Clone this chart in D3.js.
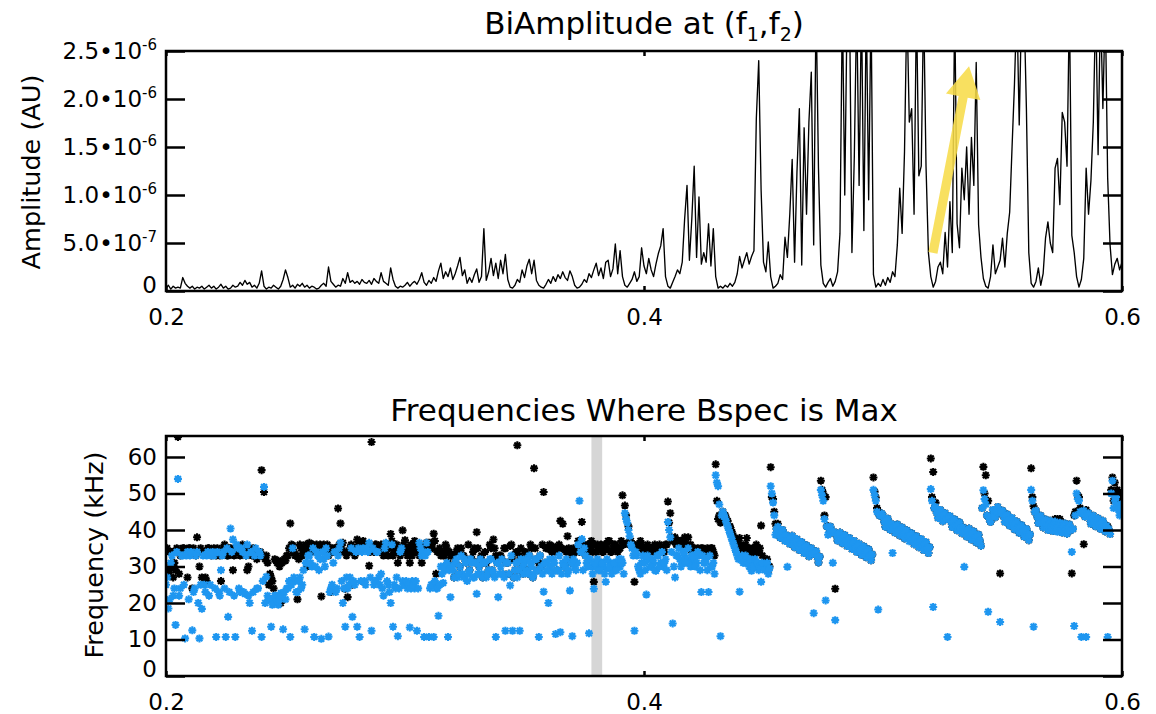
<!DOCTYPE html>
<html><head><meta charset="utf-8">
<script src="https://cdn.jsdelivr.net/npm/d3@7"></script>
<style>
body{margin:0;background:#fff}
svg{display:block}
text{font-family:"DejaVu Sans","Liberation Sans",sans-serif;fill:#000}
</style>
</head><body>
<svg id="chart" width="1156" height="714"></svg>
<script>
// ---------------- DATA ----------------
// frequency grid (x axis): starts at 0.2, step 0.001 -> 401 samples up to 0.6
const freqStart = 0.2, freqStep = 0.001;
// BiAmplitude, in units of 1e-7 AU (values above 25 are off the top of the plot)
const ampUnit = 1e-7;
const amplitude = [
0.3,0.6,0.2,0.5,0.3,0.4,0.3,1.4,0.8,0.5,
0.3,0.5,0.2,0.4,0.3,0.5,0.2,0.4,0.6,0.3,
0.5,0.2,0.4,0.7,0.3,0.5,0.2,0.3,0.6,0.4,
0.5,0.9,0.6,1.1,0.7,0.9,0.4,0.6,0.3,0.8,
2.1,0.5,0.2,0.4,0.3,0.6,0.4,0.2,0.5,1.2,
2.2,1.4,0.4,0.6,0.3,0.7,0.5,0.8,0.4,0.6,
0.3,0.5,0.4,0.2,0.3,0.6,0.8,0.5,2.5,1.0,
0.7,0.4,0.6,0.5,1.3,0.8,1.9,0.9,1.1,0.8,
1.0,0.7,1.2,0.9,0.8,1.1,0.7,1.3,1.0,0.8,
1.9,1.0,0.8,0.6,2.4,1.2,0.5,0.3,0.5,0.4,
0.6,0.9,0.5,0.8,1.0,0.7,1.2,1.9,0.9,0.6,
1.1,0.8,1.4,1.0,2.1,2.9,1.3,2.0,1.5,2.4,
1.2,1.8,2.6,3.5,1.6,2.2,0.8,1.4,0.9,1.7,
2.3,0.9,1.5,6.5,1.1,2.0,3.4,1.6,2.9,1.3,
3.2,1.8,3.8,1.2,0.4,0.3,0.6,1.2,0.9,2.2,
1.4,2.6,3.3,1.8,3.2,1.1,0.6,0.4,0.3,0.7,
1.2,0.8,1.5,1.0,1.7,1.3,2.0,1.4,1.1,2.1,
1.5,0.6,0.3,0.4,0.7,1.2,0.9,1.8,1.4,2.2,
2.9,1.6,2.4,1.3,3.0,3.2,1.5,2.3,4.9,1.8,
4.2,1.5,0.6,0.4,0.8,1.2,2.0,1.0,1.5,4.5,
2.6,1.8,3.4,2.2,1.5,2.8,3.9,4.7,6.5,1.5,
0.5,0.3,0.9,1.5,2.2,1.8,3.0,7.5,11.0,3.2,
7.5,13.0,3.5,9.8,2.8,4.0,3.0,7.0,2.6,6.5,
1.5,0.3,0.5,0.3,0.6,0.4,0.8,0.5,0.9,1.8,
3.6,2.4,3.2,4.0,2.8,3.6,4.2,18.0,24.0,10.5,
3.0,2.0,5.1,1.5,0.3,0.5,0.8,1.7,1.2,5.6,
3.5,8.0,13.7,3.0,12.4,19.0,2.7,17.0,8.0,17.6,
22.8,4.8,30,12.8,2.7,0.8,0.4,0.9,1.3,0.5,
1.0,2.0,6.0,30,10.0,30,30,4.0,14.0,30,
11.0,30,6.3,30,9.5,30,1.7,0.4,0.8,0.5,
1.2,0.6,1.4,0.9,2.0,1.5,4.8,10.7,6.0,14.5,
30,17.6,19.0,8.0,30,12.0,13.0,30,13.0,4.0,
1.5,0.4,1.0,2.5,3.0,1.8,6.1,2.5,9.3,4.0,
30,7.0,4.5,12.8,9.5,15.0,8.0,16.0,11.0,23.8,
6.9,3.5,1.3,0.5,0.3,1.5,4.8,1.8,2.5,3.2,
5.5,2.5,6.0,8.2,15.0,21.5,30,17.3,30,30,
19,4,0.8,0.4,1.0,2.4,0.6,1.8,5.5,7.2,
5.0,4.0,12.8,13.8,9.0,18.6,17.6,13.0,30,5.8,
4.0,1.5,0.4,1.2,3.4,12.8,8.0,11.5,17.6,30,
14.2,30,19.0,30,11.8,4.8,1.7,2.8,3.4,2.2,3.0
];
// Frequencies (kHz) where Bspec is max, black series, on the 0.001 grid
const freqBlack = [
34,28,30,27,29,65.5,33,35,34,27,
35,24,34,38,30,27,34,26,35,33,
35,33,34,26,35,34,33,35,29,34,
35,33,36,34,29,35,33,34,32,33,
56.4,50.4,33,25,27,24,31.6,31.6,20,31.6,
31.6,33,41.8,35.8,33,21,36,33,35,30,
36.5,34,35,36,35,21.8,36,35,33,23,
34,35,45.9,41.8,36.5,23.9,21.6,35,25,33,
37.4,35,36,25.7,35,30.2,64.1,34,36,35,
36,33,36.3,33,38.9,33,35,31,33,39.9,
37.2,33,31,33,37,35,33,31,35,36.5,
36.5,36.5,39,28,34,33,33,36,31,33,
33,31,35,30,33,32,31.8,29,32,35,
39.4,30,33,31,31,29,35,37.4,33,32,
33,28,35,31,35.6,32,29,63.2,33,30,
32,29,33,35,56.9,32,31,30,50.4,35,
35,34.5,35.5,34,35,42.5,41.7,34.5,38.3,34,
33,34,35,34,42.2,36,34,35,37,25.8,
34,35,36,34,35,37,34,35,36,34,
35,49.5,46.7,36.5,36,35.5,25.8,35,36,36,
34,35,34,35,34,35,34,35,34,36,
47.8,44.6,37,38,36,37,36,38,36,35,
34,35,34,34.2,35,34,33,34,35,34,
58,43,42,45,44,42.5,41,39,37.8,37,
37.8,35,34,37.8,35,34,33,36,34,41.2,
31,30.5,29,57.2,48.5,41.7,41.7,37.9,40.0,37.0,
38,36.2,38.4,35.3,37.5,34.5,36.7,33.7,35.8,32.8,
35.0,33.5,34.2,31.1,53.5,50,49,41,40.9,39.5,
23.9,37.1,39.3,36.4,38.6,35.6,37.8,34.8,37.0,34.0,
36.2,33.2,35.5,32.5,34.7,31.7,54.4,48.9,45,44,
43.9,40.9,43.1,40.1,40.5,39.3,41.5,38.5,40.7,37.7,
39.9,38.8,39.1,36.1,38.3,35.3,37.5,34.5,36.7,33.7,
59.6,55.9,47.5,43.3,45.5,42.4,44.6,43.5,43.8,40.8,
42.9,39.9,42.1,39.1,40.5,38.2,40.4,37.4,39.6,36.6,
38.7,35.7,57.3,55,48,42.2,45.5,43.5,46.3,28.1,
45.3,42.2,44.3,41.2,43.3,40.2,42.3,39.2,41.3,38.2,
40.3,37.2,56.9,46.5,45.3,41.9,43.9,40.7,42.9,40.0,
42.5,39.7,43,43,43,39.3,41.8,39.0,41.5,28.1,
44,53.5,49,45,36.1,45.5,44.6,41.7,43.9,41.0,
43.2,40.3,42.5,39.6,41,38.9,54.4,53,51,50,49
];
// black series, samples half-way between the grid points (0.2005, 0.2015, ...)
const freqBlackMid = [
35,29,34,31,35,28,34,35,34,35,
34,35,33,34,35,34,27,35,34,34,
34,35,33,34,36,33,35,34,33,35,
34,35,34,33,30,34,35,33,34,34,
33,32,31,28,26,32,31,30,31,32,
33,35,36,34,33,32,35,34,36,35,
35,36,34,35,36,35,34,36,34,35,
35,34,36,35,34,33,34,36,35,34,
36,35,37,35,36,34,35,36,35,34,
35,34,36,35,37,34,36,35,34,36,
35,34,36,35,34,36,35,34,36,35,
36,35,37,34,35,34,33,35,34,33,
27,34,28,35,33,31,36,32,34,31,
35,32,27,34,28,36,29,35,31,33,
32,35,31,28,36,27,34,29,35,28,
34,28,36,27,35,29,33,36,31,35,
36,34,35,29,36,35,30,34,35,31,
35,34,37,36,35,33,36,35,34,36,
36,35,34,36,35,37,34,36,35,35,
37,36,44,41,37,36,35,36,37,35,
35,36,34,35,36,34,36,35,34,36,
42,38,37,36,37,36,37,36,38,36,
35,34,35,34,35,34,35,34,35,33,
48,44,43,44,43,41,40,38,37,36,
36,34,36,35,34,35,34,35,35,33,
30,32,30,49,45,40.3,39.3,39.5,38.4,38.6,
37.6,37.8,36.8,36.9,35.9,36.1,35.1,35.3,34.2,34.4,
33.4,33.6,32.6,32.7,51,44,41,40.3,39.3,39.5,
38.5,38.7,37.7,38.0,37.0,37.2,36.2,36.4,35.4,35.6,
34.6,34.8,33.9,34.1,33.1,33.3,50.5,46,44,44.5,
42.3,42.5,41.5,41.7,40.7,40.9,39.9,40.1,39.1,39.3,
38.3,38.5,37.5,37.7,36.7,36.9,35.9,36.1,35.1,35.3,
49,46,44.7,44.9,43.9,44.0,43.0,43.2,42.2,42.4,
41.3,41.5,40.5,40.7,39.7,39.8,38.8,39.0,38.0,38.2,
37.1,46,50,44,43,43.8,43.9,45.1,44.7,44.8,
43.7,43.8,42.7,42.8,41.7,41.8,40.7,40.8,39.7,39.8,
38.7,38.8,49,45,43.7,43.5,42.3,42.3,41.3,41.6,
40.9,41.3,40.7,41.1,40.4,40.9,40.2,40.6,39.9,40.3,
45,49.5,46,44.5,43.7,44.0,43.0,43.3,42.3,42.6,
41.6,41.9,40.9,41.2,40.2,51,48,49.5,49,48
];
// Frequencies (kHz) where Bspec is max, blue series, on the 0.001 grid
const freqBlue = [
25,18.5,31,22,14,54,24,33,10.3,34,
33,12.5,24,34,10.3,18.4,25,33,22,33,
33,10.7,23,29,34,10.7,16.2,40.4,37.4,10.7,
35,23,34,22.5,36,20,12.4,33,24,34,
10.7,51.8,27.2,21,13.5,20,22,19.5,22.7,12.8,
21,24,10.7,35,26,23,27,25,12.8,31,
33,30,10.7,34,29,10.2,32,35,10.8,24,
31,23,33,36.5,20,13.5,24,27,16.2,25,
13.5,10.7,34,26,35,36.5,12.4,25,34,27,
28,22,36.5,25,20,13.5,24,10.9,34,26,
25,24,13.3,26,24,12.4,36.5,33,10.7,36.5,
10.7,25,10.7,24,16.5,30,25.5,29,10.7,21.6,
29,31,27,30,28,32,26,29,31,27,
22.5,30,28,31,27,29,32,28,10.7,21.6,
30,28,12.4,31,24.8,12.4,29,27,12.4,30,
31,29,33,30,28,32,10.7,30,23.1,31,
20,30,32,11.5,29,12,31,30,28,23.4,
10.9,30,31,48,37.5,35,31,11.7,30,23.9,
30,29,31,30,25.8,29.5,31,30,29,31,
30,31,44.6,42,38.3,35,12.4,33,29,31,
31,22.3,32,30,31,28.8,33,31,30,32,
42.2,38,14.4,27,33,32,31,33,32,31,
33,32,31,33,23,31,32,23,30,31,
55,52,10.9,45,43,41,39,37,35,33,
23.1,33,31,32,30,28.8,31,30,29,25.8,
30,29.7,28,52,47.5,38.7,40.9,37.9,40.0,37.0,
29.9,36.2,38.4,35.3,37.5,34.5,36.7,33.7,35.8,32.8,
35.0,17.2,34.2,31.1,51,48,20.7,38.7,40.9,31,
15.3,37.1,39.3,36.4,38.6,35.6,37.8,34.8,37.0,34.0,
36.2,33.2,35.5,32.5,34.7,31.7,51,48,18.2,44,
43.9,40.9,43.1,40.1,33.7,39.3,41.5,38.5,40.7,37.7,
39.9,36.9,39.1,36.1,38.3,35.3,37.5,34.5,36.7,33.7,
51.2,18.9,46.3,43.3,45.5,42.4,44.6,10.7,43.8,40.8,
42.9,39.9,42.1,39.1,29.9,38.2,40.4,37.4,39.6,36.6,
38.7,35.7,50.9,47,17.6,42.2,45.5,43.5,46.3,14.8,
45.3,42.2,44.3,41.2,43.3,40.2,42.3,39.2,41.3,38.2,
40.3,37.2,51,13.5,45.3,41.9,43.9,40.7,42.9,40.0,
42.5,39.7,42.3,39.5,42.0,39.3,41.8,39.0,41.5,34,
13.7,50,48,10.7,45.3,10.7,44.6,41.7,43.9,41.0,
43.2,40.3,42.5,39.6,10.7,38.9,53.5,48,46.5,44,47
];
// blue series, samples half-way between the grid points (0.2005, 0.2015, ...)
const freqBlueMid = [
27,21,33,24,34,22,33,25,33,21,
34,23,33,20,25,33,23,34,25,34,
24,34,22,33,24,35,23,34,22,36,
24,35,23,33,22,34,23,35,24,33,
26,20,22,21,19.5,22,20.5,21,22,23,
24,26,25,27,23,26,24,29,31,33,
31,35,30,33,32,34,30,33,23,25,
34,24,35,26,24,27,25,35,26,34,
35,26,35,25,34,27,35,26,34,25,
24,35,26,23,36,25,27,24,35,25,
26,25,24,25,26,24,35,34,33,34,
24,25,26,24,25,28,30,31,29,30,
27,32,28,33,27,31,28,32,27,31,
28,32,27,31,28,32,29,27,31,28,
32,27,31,28,33,27,31,29,32,28,
32,28,31,27,32,29,33,28,31,29,
32,28,31,29,33,28,30,32,29,31,
32,29,36,34,29,33,30,32,28,31,
32,29,31,28,32,30,28,31,29,32,
32,28,43,40,36,33,34,30,28,33,
29,33,30,32,29,33,30,34,31,29,
40,34,30,33,35,30,34,31,35,30,
33,30,34,29,33,31,29,33,30,28,
53,47,44,44,42,40,38,36,34,32,
32,31,33,31,32,30,32,31,30,31,
29,31,29.5,50,44,40.3,39.3,39.5,38.4,38.6,
37.6,37.8,36.8,36.9,35.9,36.1,35.1,35.3,34.2,34.4,
33.4,33.6,32.6,32.7,49.5,43,41,40.3,39.3,39.5,
38.5,38.7,37.7,38.0,37.0,37.2,36.2,36.4,35.4,35.6,
34.6,34.8,33.9,34.1,33.1,33.3,49.5,45,44,44.5,
42.3,42.5,41.5,41.7,40.7,40.9,39.9,40.1,39.1,39.3,
38.3,38.5,37.5,37.7,36.7,36.9,35.9,36.1,35.1,35.3,
48,46,44.7,44.9,43.9,44.0,43.0,43.2,42.2,42.4,
41.3,41.5,40.5,40.7,39.7,39.8,38.8,39.0,38.0,38.2,
37.1,46,48.5,44,43,43.8,43.9,45.1,44.7,44.8,
43.7,43.8,42.7,42.8,41.7,41.8,40.7,40.8,39.7,39.8,
38.7,38.8,48,45,43.7,43.5,42.3,42.3,41.3,41.6,
40.9,41.3,40.7,41.1,40.4,40.9,40.2,40.6,39.9,40.3,
44,48.5,45,44.5,43.7,44.0,43.0,43.3,42.3,42.6,
41.6,41.9,40.9,41.2,40.2,50,46,49,45.5,47
];
const xTicks = [0.2, 0.4, 0.6];
const ampTicks = [0, 5e-7, 1e-6, 1.5e-6, 2e-6, 2.5e-6];
const ampTickLabels = [["0",""],["5.0•10","-7"],["1.0•10","-6"],["1.5•10","-6"],["2.0•10","-6"],["2.5•10","-6"]];
const freqTicks = [0, 10, 20, 30, 40, 50, 60];
const highlightBand = [0.378, 0.3825];
const arrowFrom = [0.5209, 3.96e-7], arrowTo = [0.536, 2.34e-6];

// ---------------- LAYOUT ----------------
const svg = d3.select("#chart");
const L = 166, R = 1122;
const top1 = 51, bot1 = 291, top2 = 436, bot2 = 676;
const BLUE = "#1e96f0";
const x = d3.scaleLinear().domain([0.2, 0.6]).range([L, R]);
const yA = d3.scaleLinear().domain([0, 2.5e-6]).range([bot1, top1]);
const yF = d3.scaleLinear().domain([0, 65.75]).range([bot2, top2]);
const fx = i => freqStart + i * freqStep;
const fxMid = i => freqStart + (i + 0.5) * freqStep;

const defs = svg.append("defs");
defs.append("clipPath").attr("id","clip1").append("rect")
  .attr("x",L).attr("y",top1).attr("width",R-L).attr("height",bot1-top1);
defs.append("clipPath").attr("id","clip2").append("rect")
  .attr("x",L).attr("y",top2).attr("width",R-L).attr("height",bot2-top2);

function styleAxis(g){
  g.select(".domain").remove();
  g.selectAll(".tick line").attr("stroke","#000").attr("stroke-width",2.5);
  g.selectAll(".tick text").attr("font-size",23).attr("fill","#000")
    .attr("font-family","DejaVu Sans, sans-serif");
}

// ---------- TOP PANEL ----------
const p1 = svg.append("g");
p1.append("path").datum(amplitude)
  .attr("clip-path","url(#clip1)")
  .attr("fill","none").attr("stroke","#000").attr("stroke-width",1.35)
  .attr("stroke-linejoin","round")
  .attr("d", d3.line().x((d,i)=>x(fx(i))).y(d=>yA(d*ampUnit)));

// arrow annotation
{
  const a0 = [x(arrowFrom[0]), yA(arrowFrom[1])], a1 = [x(arrowTo[0]), yA(arrowTo[1])];
  const dx = a1[0]-a0[0], dy = a1[1]-a0[1], len = Math.hypot(dx,dy);
  const u = [dx/len, dy/len], n = [-u[1], u[0]];
  const hl = 31, hw = 17.5, sw = 4.6;
  const nk = [a1[0]-u[0]*hl, a1[1]-u[1]*hl];
  const pts = [
    [a0[0]+n[0]*sw, a0[1]+n[1]*sw],
    [nk[0]+n[0]*sw, nk[1]+n[1]*sw],
    [nk[0]+n[0]*hw, nk[1]+n[1]*hw],
    a1,
    [nk[0]-n[0]*hw, nk[1]-n[1]*hw],
    [nk[0]-n[0]*sw, nk[1]-n[1]*sw],
    [a0[0]-n[0]*sw, a0[1]-n[1]*sw]
  ];
  p1.append("path").attr("d", d3.line()(pts) + "Z")
    .attr("fill","#f7dc4a").attr("opacity",0.88);
}

const gA = p1.append("g").attr("transform",`translate(${L},0)`)
  .call(d3.axisLeft(yA).tickValues(ampTicks).tickSize(-19).tickPadding(9));
styleAxis(gA);
gA.selectAll(".tick text").each(function(d,i){
  const t = d3.select(this);
  t.text(null);
  t.append("tspan").text(ampTickLabels[i][0]);
  if (ampTickLabels[i][1]) t.append("tspan").attr("font-size",15).attr("dy","-0.62em").text(ampTickLabels[i][1]);
  if (d === 0) t.attr("y",-6);
});
styleAxis(p1.append("g").attr("transform",`translate(${R},0)`)
  .call(d3.axisRight(yA).tickValues(ampTicks).tickSize(-19).tickFormat("")));
styleAxis(p1.append("g").attr("transform",`translate(0,${bot1})`)
  .call(d3.axisBottom(x).tickValues(xTicks).tickSize(-5).tickPadding(17.5).tickFormat(d3.format(".1f"))));
styleAxis(p1.append("g").attr("transform",`translate(0,${top1})`)
  .call(d3.axisTop(x).tickValues(xTicks).tickSize(-5).tickFormat("")));
p1.append("rect").attr("x",L).attr("y",top1).attr("width",R-L).attr("height",bot1-top1)
  .attr("fill","none").attr("stroke","#000").attr("stroke-width",2.5);

const t1 = svg.append("text").attr("x",(L+R)/2).attr("y",34).attr("text-anchor","middle").attr("font-size",31);
t1.append("tspan").text("BiAmplitude at (f");
t1.append("tspan").attr("font-size",19).attr("dy","0.35em").text("1");
t1.append("tspan").attr("dy","-0.214em").text(",f");
t1.append("tspan").attr("font-size",19).attr("dy","0.35em").text("2");
t1.append("tspan").attr("dy","-0.214em").text(")");

svg.append("text").attr("transform","translate(40,172) rotate(-90)")
  .attr("text-anchor","middle").attr("font-size",25.5).text("Amplitude (AU)");

// ---------- BOTTOM PANEL ----------
const p2 = svg.append("g");
p2.append("rect").attr("x",x(highlightBand[0])).attr("y",top2)
  .attr("width",x(highlightBand[1])-x(highlightBand[0])).attr("height",bot2-top2)
  .attr("fill","#d6d6d6");

const star = "M-4,0H4M0,-4V4M-2.9,-2.9L2.9,2.9M-2.9,2.9L2.9,-2.9";
const pts2 = p2.append("g").attr("clip-path","url(#clip2)");
function drawSeries(vals, xf, color, cls){
  pts2.selectAll("path."+cls).data(vals).join("path").attr("class",cls)
    .attr("d",star).attr("transform",(d,i)=>`translate(${x(xf(i))},${yF(d)})`)
    .attr("stroke",color).attr("stroke-width",2.1).attr("fill","none");
}
drawSeries(freqBlack, fx, "#000", "blk");
drawSeries(freqBlackMid, fxMid, "#000", "blkm");
drawSeries(freqBlue, fx, BLUE, "blu");
drawSeries(freqBlueMid, fxMid, BLUE, "blum");

const gF = p2.append("g").attr("transform",`translate(${L},0)`)
  .call(d3.axisLeft(yF).tickValues(freqTicks).tickSize(-19).tickPadding(9));
styleAxis(gF);
gF.selectAll(".tick text").filter(d=>d===0).attr("y",-7);
styleAxis(p2.append("g").attr("transform",`translate(${R},0)`)
  .call(d3.axisRight(yF).tickValues(freqTicks).tickSize(-19).tickFormat("")));
styleAxis(p2.append("g").attr("transform",`translate(0,${bot2})`)
  .call(d3.axisBottom(x).tickValues(xTicks).tickSize(-5).tickPadding(17.5).tickFormat(d3.format(".1f"))));
styleAxis(p2.append("g").attr("transform",`translate(0,${top2})`)
  .call(d3.axisTop(x).tickValues(xTicks).tickSize(-5).tickFormat("")));
p2.append("rect").attr("x",L).attr("y",top2).attr("width",R-L).attr("height",bot2-top2)
  .attr("fill","none").attr("stroke","#000").attr("stroke-width",2.5);

svg.append("text").attr("x",(L+R)/2).attr("y",421).attr("text-anchor","middle")
  .attr("font-size",31).text("Frequencies Where Bspec is Max");
svg.append("text").attr("transform","translate(103,555) rotate(-90)")
  .attr("text-anchor","middle").attr("font-size",25.5).text("Frequency (kHz)");
</script>
</body></html>
